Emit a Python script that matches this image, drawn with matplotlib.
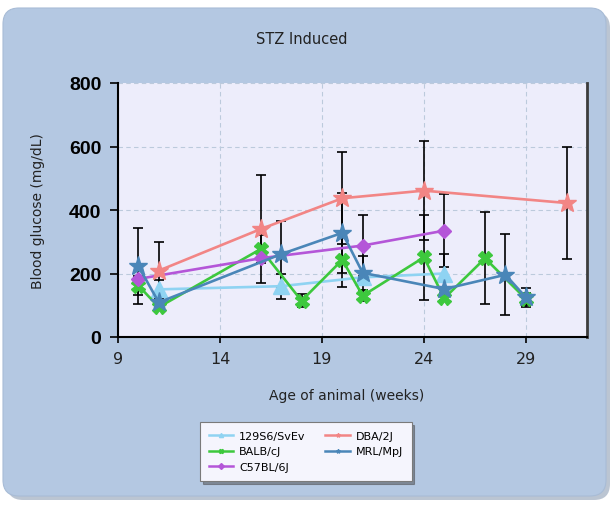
import numpy as np
import matplotlib
matplotlib.use("Agg")
import matplotlib.pyplot as plt
from matplotlib.patches import FancyBboxPatch
from matplotlib.lines import Line2D

# data
strains = ["129S6/SvEv", "BALB/cJ", "C57BL/6J", "DBA/2J", "MRL/MpJ"]

s129_weeks = [11, 17, 21, 25]
s129_glucose = [150, 160, 188, 200]
s129_err = [31, 40, 0, 60]

balb_weeks = [10, 11, 16, 18, 20, 21, 24, 25, 27, 29]
balb_glucose = [162, 94, 277, 114, 243, 130, 251, 122, 248, 120]
balb_err = [30, 0, 45, 20, 86, 17, 133, 0, 145, 20]

c57_weeks = [10, 16, 21, 25]
c57_glucose = [183, 248, 288, 335]
c57_err = [0, 0, 95, 115]

dba_weeks = [11, 16, 20, 24, 31]
dba_glucose = [209, 340, 437, 461, 422]
dba_err = [89, 170, 145, 155, 177]

mrl_weeks = [10, 11, 17, 20, 21, 25, 28, 29]
mrl_glucose = [223, 109, 261, 328, 202, 151, 196, 125]
mrl_err = [120, 0, 105, 126, 54, 35, 127, 30]

x_ticks = [9, 14, 19, 24, 29]
y_ticks = [0, 200, 400, 600, 800]

series = [
    (s129_weeks, s129_glucose, s129_err, "#8fd3f2", "^", 11),
    (balb_weeks, balb_glucose, balb_err, "#3dc83d", "X", 10),
    (c57_weeks, c57_glucose, c57_err, "#b456d8", "D", 7),
    (dba_weeks, dba_glucose, dba_err, "#f28585", "*", 14),
    (mrl_weeks, mrl_glucose, mrl_err, "#4a86b8", "*", 14),
]

W, H = 613, 506
fig = plt.figure(figsize=(W / 100, H / 100), dpi=100)
fig.patch.set_facecolor("white")

# rounded background panel with a shadow
bg = fig.add_axes([0, 0, 1, 1])
bg.set_xlim(0, W)
bg.set_ylim(H, 0)
bg.axis("off")
shadow = FancyBboxPatch((7, 13), 603, 488, boxstyle="round,pad=0,rounding_size=16",
                        facecolor="#8f9fb5", edgecolor="none", alpha=0.6)
panel = FancyBboxPatch((3, 9), 603, 488, boxstyle="round,pad=0,rounding_size=16",
                       facecolor="#b4c8e2", edgecolor="#a8bcd6", lw=0.8)
bg.add_patch(shadow)
bg.add_patch(panel)

ax = fig.add_axes([118 / W, 1 - 338 / H, (587 - 118) / W, (338 - 84) / H])
ax.set_facecolor("#ededfb")
ax.set_xlim(9, 32)
ax.set_ylim(0, 800)
ax.set_xticks(x_ticks)
ax.set_yticks(y_ticks)
ax.grid(True, color="#bccadc", linestyle=(0, (4, 3)), lw=0.8)
ax.set_axisbelow(True)

for side in ["left", "bottom"]:
    ax.spines[side].set_color("black")
    ax.spines[side].set_linewidth(1.5)
ax.spines["top"].set_visible(False)
ax.spines["right"].set_color("#3c3c3c")
ax.spines["right"].set_linewidth(2)

ax.tick_params(axis="y", direction="out", length=6, width=1.2, pad=6)
ax.tick_params(axis="x", direction="out", length=4, width=1.2, pad=6)
for lbl in ax.get_yticklabels():
    lbl.set_fontfamily("Liberation Sans")
    lbl.set_fontweight("bold")
    lbl.set_fontsize(14)
for lbl in ax.get_xticklabels():
    lbl.set_fontsize(11.5)
    lbl.set_color("#222222")

for weeks, glucose, err, color, marker, ms in series:
    weeks = np.array(weeks)
    glucose = np.array(glucose)
    err = np.array(err)
    keep = err > 0
    ax.errorbar(weeks[keep], glucose[keep], yerr=err[keep], fmt="none",
                ecolor="black", elinewidth=1.2, capsize=3.5, capthick=1.2, zorder=3)
    ax.plot(weeks, glucose, color=color, lw=1.9, marker=marker, ms=ms,
            markeredgecolor=color, zorder=4)

fig.text(0.493, 0.921, "STZ Induced", ha="center", va="center", fontsize=10.5, color="#222222")
fig.text(0.566, 0.217, "Age of animal (weeks)", ha="center", va="center", fontsize=10, color="#222222")
fig.text(0.062, 0.583, "Blood glucose (mg/dL)", ha="center", va="center", rotation=90,
         fontsize=10, color="#222222")

handles = [Line2D([], [], color=c, lw=1.8, marker=m, ms=3) for _, _, _, c, m, _ in series]
leg = fig.legend(handles, strains, ncol=2, loc="upper left",
                 bbox_to_anchor=(200 / W, 1 - 423 / H), fontsize=8,
                 frameon=True, fancybox=False, shadow=True, handlelength=2.2,
                 handletextpad=0.5, columnspacing=1.8, labelspacing=0.5,
                 borderpad=0.8, borderaxespad=0)
leg.get_frame().set_facecolor("#f5f5fd")
leg.get_frame().set_edgecolor("#7a7a7a")
leg.get_frame().set_linewidth(0.8)

fig.savefig("out.png", dpi=100)
